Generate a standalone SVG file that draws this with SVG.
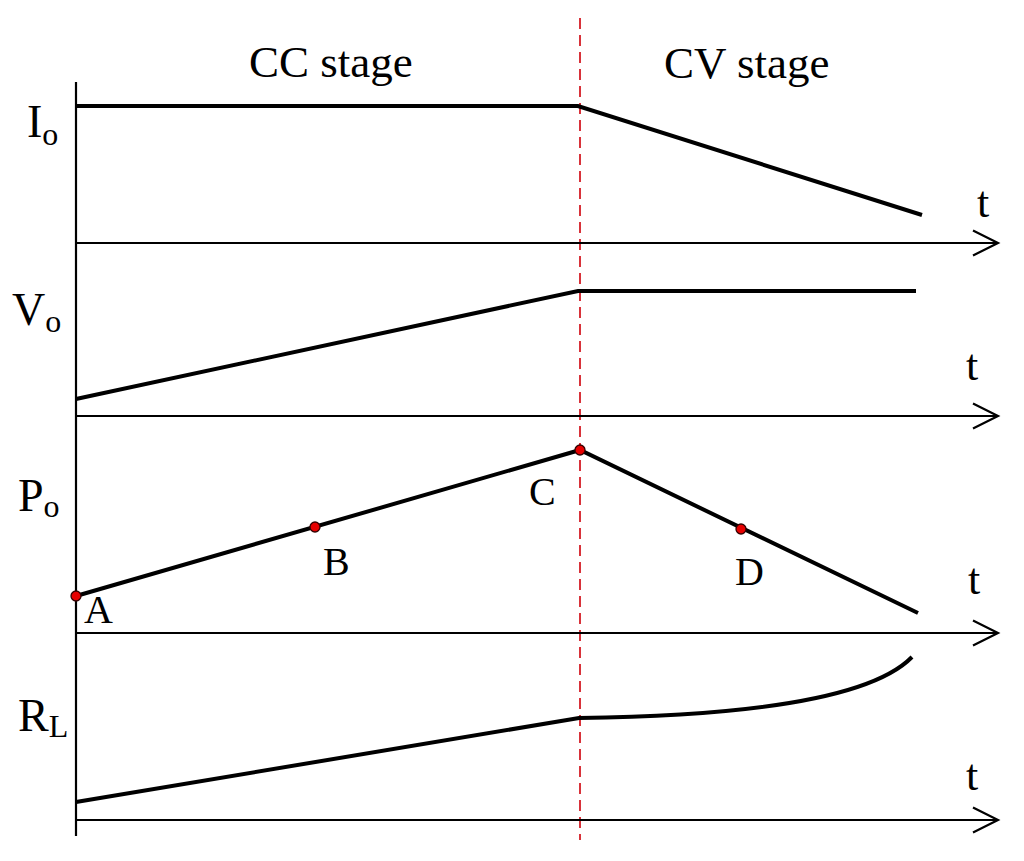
<svg xmlns="http://www.w3.org/2000/svg" width="1024" height="861" viewBox="0 0 1024 861">
<style>
text{font-family:"Liberation Serif","Times New Roman",serif;fill:#000}
.lbl{font-size:46px}
.sub{font-size:32px}
.stage{font-size:45px}
.pt{font-size:40px}
.tt{font-size:44px}
.axis{stroke:#000;stroke-width:2.2;fill:none}
.curve{stroke:#000;stroke-width:4;fill:none;stroke-linejoin:miter}
.dot{fill:#e60000;stroke:#300;stroke-width:1.3}
.div{stroke:#d8323a;stroke-width:2;stroke-dasharray:11 6;fill:none}
</style>
<defs>
<marker id="arr" markerWidth="30" markerHeight="30" refX="26" refY="14" orient="auto" markerUnits="userSpaceOnUse">
<path d="M1,1.5 L26,14 L1,26.5" fill="none" stroke="#000" stroke-width="2.2"/>
</marker>
</defs>
<rect width="1024" height="861" fill="#fff"/>
<g id="stages">
<text class="stage" x="249" y="77">CC stage</text>
<text class="stage" x="664" y="78">CV stage</text>
</g>
<g id="divider"><line class="div" x1="580" y1="18" x2="580" y2="840"/></g>
<g id="connectors">
<line class="axis" x1="76" y1="82" x2="76" y2="836"/>
<line class="axis" x1="76" y1="243" x2="998" y2="243" marker-end="url(#arr)"/>
<line class="axis" x1="76" y1="416" x2="998" y2="416" marker-end="url(#arr)"/>
<line class="axis" x1="76" y1="633" x2="998" y2="633" marker-end="url(#arr)"/>
<line class="axis" x1="76" y1="820" x2="998" y2="820" marker-end="url(#arr)"/>
</g>
<g id="io">
<text class="lbl" x="27" y="137">I<tspan class="sub" dy="8">o</tspan></text>
<path class="curve" d="M76,106 H578 L922,215"/>
<text class="tt" x="977" y="217">t</text>
</g>
<g id="vo">
<text class="lbl" x="12" y="325">V<tspan class="sub" dy="7">o</tspan></text>
<path class="curve" d="M76,399 L578,291 H916"/>
<text class="tt" x="966" y="380">t</text>
</g>
<g id="po">
<text class="lbl" x="18" y="511">P<tspan class="sub" dy="6">o</tspan></text>
<path class="curve" d="M76,596 L580,450 L918,613"/>
<text class="tt" x="968" y="594">t</text>
</g>
<g id="pointA"><circle class="dot" cx="76" cy="596" r="5"/><text class="pt" x="84" y="623">A</text></g>
<g id="pointB"><circle class="dot" cx="315" cy="527" r="5"/><text class="pt" x="323" y="575">B</text></g>
<g id="pointC"><circle class="dot" cx="580" cy="450" r="5"/><text class="pt" x="529" y="505">C</text></g>
<g id="pointD"><circle class="dot" cx="741" cy="529" r="5"/><text class="pt" x="735" y="585">D</text></g>
<g id="rl">
<text class="lbl" x="18" y="731">R<tspan class="sub" dy="6">L</tspan></text>
<path class="curve" d="M76,802 L579,718 C740,716 870,700 912,657"/>
<text class="tt" x="966" y="790">t</text>
</g>
</svg>
